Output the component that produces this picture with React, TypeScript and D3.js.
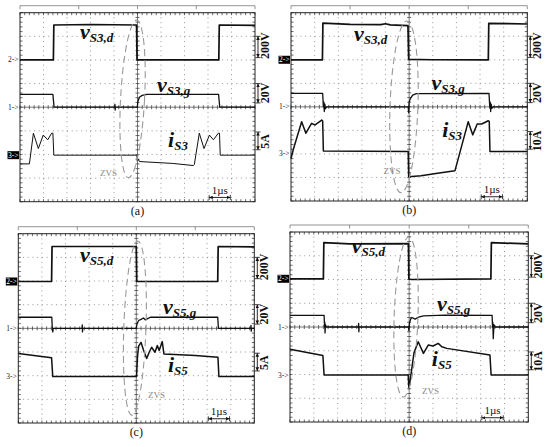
import React from "react";
import * as d3 from "d3";

type Pt = [number, number];

// Time axis: µs from the left screen edge (1 div = 1 µs, 10 div).
// Vertical axis: screen divisions, 0 = centre line, positive up (8 div).

// ---------- Panel (a) ----------
const A_VDS: Pt[] = [[0, 2.0], [1.42, 2.0], [1.44, 3.48], [3.0, 3.5], [4.96, 3.48], [4.98, 2.0], [8.46, 2.0], [8.48, 3.48], [10, 3.46]];
const A_VGS: Pt[] = [[0, 0.54], [1.4, 0.54], [1.45, 0], [4.03, 0], [4.04, 0.12], [4.05, -0.12], [4.06, 0], [4.99, 0], [5.02, 0.25], [5.08, 0.42], [5.2, 0.5], [5.4, 0.54], [8.45, 0.54], [8.5, 0], [10, 0]];
const A_IS: Pt[] = [[0, -2.4], [0.4, -2.4], [0.57, -1.1], [0.78, -1.75], [0.99, -1.18], [1.18, -1.38], [1.35, -1.1], [1.4, -1.1], [1.44, -2.03], [4.97, -2.03], [5.0, -2.28], [5.04, -2.2], [5.08, -2.3], [6.5, -2.38], [7.38, -2.47], [7.42, -2.42], [7.63, -1.1], [7.83, -1.75], [8.06, -1.18], [8.23, -1.38], [8.44, -1.1], [8.49, -1.1], [8.52, -2.03], [10, -2.03]];

// ---------- Panel (b) ----------
const B_VDS: Pt[] = [[0, 2.0], [1.33, 2.0], [1.35, 3.56], [2.5, 3.5], [3.8, 3.49], [4.0, 3.53], [4.2, 3.48], [4.95, 3.45], [4.98, 2.02], [6, 2.0], [8.35, 2.0], [8.37, 3.55], [10, 3.52]];
const B_VGS: Pt[] = [[0, 0.57], [1.34, 0.57], [1.37, 0], [1.39, 0.2], [1.41, -0.2], [1.43, 0.12], [1.46, -0.08], [1.5, 0], [4.96, 0], [4.98, -0.25], [5.0, 0.2], [5.05, 0.35], [5.15, 0.5], [5.3, 0.56], [8.38, 0.57], [8.41, 0], [8.43, 0.2], [8.45, -0.2], [8.47, 0.12], [8.5, -0.06], [8.55, 0], [10, 0]];
const B_IS: Pt[] = [[0, -2.2], [0.1, -1.8], [0.45, -0.63], [0.63, -1.12], [0.87, -0.7], [1.02, -0.77], [1.3, -0.56], [1.34, -0.6], [1.37, -1.88], [4.96, -1.9], [4.98, -2.97], [5.5, -2.93], [6.2, -2.82], [6.94, -2.71], [7.5, -0.63], [7.69, -1.19], [7.88, -0.73], [8.07, -0.73], [8.35, -0.59], [8.39, -0.62], [8.42, -1.9], [10, -1.9]];

// ---------- Panel (c) ----------
const C_VDS: Pt[] = [[0, 1.98], [1.41, 1.98], [1.43, 3.46], [5.0, 3.46], [5.02, 1.98], [8.45, 1.98], [8.47, 3.46], [10, 3.44]];
const C_VGS: Pt[] = [[0, 0.47], [1.42, 0.47], [1.44, 0], [1.46, -0.15], [1.48, 0], [2.7, 0], [2.71, 0.15], [2.72, -0.15], [2.73, 0], [5.0, 0], [5.03, 0.2], [5.1, 0.33], [5.2, 0.38], [5.3, 0.44], [5.38, 0.36], [5.5, 0.42], [5.6, 0.47], [8.45, 0.47], [8.48, 0], [9.85, 0], [9.86, 0.12], [9.87, -0.12], [9.88, 0], [10, 0]];
const C_IS: Pt[] = [[0, -1.06], [1.41, -1.24], [1.46, -2.04], [5.01, -2.04], [5.05, -1.2], [5.1, -0.75], [5.2, -0.59], [5.3, -0.9], [5.44, -1.27], [5.55, -1.0], [5.65, -0.8], [5.79, -1.01], [5.89, -0.73], [5.97, -0.94], [6.1, -0.56], [6.17, -1.08], [7.5, -1.15], [8.46, -1.22], [8.5, -2.04], [10, -2.04]];

// ---------- Panel (d) ----------
const D_VDS: Pt[] = [[0, 2.03], [1.4, 2.03], [1.42, 3.55], [2.5, 3.5], [4.97, 3.51], [4.99, 2.02], [5.1, 2.0], [8.43, 2.03], [8.45, 3.55], [10, 3.5]];
const D_VGS: Pt[] = [[0, 0.49], [1.43, 0.49], [1.45, 0], [1.46, 0.2], [1.47, -0.25], [1.49, 0.1], [1.52, 0], [2.87, 0], [2.88, 0.15], [2.89, -0.2], [2.9, 0], [4.97, 0], [4.99, -0.15], [5.02, 0.2], [5.07, 0.35], [5.12, 0.4], [5.25, 0.33], [5.4, 0.42], [5.6, 0.47], [6.5, 0.5], [8.48, 0.49], [8.5, 0], [8.51, 0.2], [8.53, -0.49], [8.56, 0.1], [8.6, 0], [10, 0]];
const D_IS: Pt[] = [[0, -0.94], [1.38, -1.2], [1.43, -2.02], [4.96, -2.02], [4.99, -2.6], [5.05, -2.2], [5.2, -1.1], [5.38, -0.62], [5.6, -1.11], [5.8, -0.76], [6.0, -0.8], [6.22, -0.69], [6.37, -0.83], [6.58, -0.9], [8.39, -1.18], [8.44, -2.02], [10, -2.02]];

// ---------- texts ----------
const PANEL_LETTERS = ["(a)", "(b)", "(c)", "(d)"];
const SWITCH_NAMES = ["S3", "S3", "S5", "S5"];
const SCALE_LABELS = [
  ["200V", "20V", "5A"],
  ["200V", "20V", "10A"],
  ["200V", "20V", "5A"],
  ["200V", "20V", "10A"],
];
const CHANNEL_TAGS = ["2->", "1->", "3->"];
const TIME_LABEL = "1µs";
const ZVS_LABEL = "ZVS";

const SERIF = "'Liberation Serif','Times New Roman',serif";

interface PanelCfg {
  x0: number; y0: number; x1: number; y1: number;
  vd: Pt[]; vg: Pt[]; cur: Pt[];
  curW: number;
  ch3: number; boxed: number;
  lab: [Pt, Pt, Pt];
  ell: { cx: number; cy: number; rx: number; ry: number; rot: number };
  zvs: Pt;
}

const PANELS: PanelCfg[] = [
  { x0: 20, y0: 12.7, x1: 255, y1: 201.7, vd: A_VDS, vg: A_VGS, cur: A_IS, curW: 1.0, ch3: -2.03, boxed: 2,
    lab: [[2.55, 2.87], [5.83, 0.64], [6.3, -1.68]], ell: { cx: 4.79, cy: 0.35, rx: 0.51, ry: 3.34, rot: 3 }, zvs: [3.4, -2.91] },
  { x0: 291, y0: 12.7, x1: 527.3, y1: 201, vd: B_VDS, vg: B_VGS, cur: B_IS, curW: 1.5, ch3: -2.0, boxed: 0,
    lab: [[2.67, 2.8], [5.95, 0.72], [6.4, -1.28]], ell: { cx: 4.78, cy: 0.0, rx: 0.59, ry: 3.65, rot: 2 }, zvs: [3.91, -2.85] },
  { x0: 18.3, y0: 233.7, x1: 254.3, y1: 423, vd: C_VDS, vg: C_VGS, cur: C_IS, curW: 1.5, ch3: -2.04, boxed: 0,
    lab: [[2.61, 2.8], [6.13, 0.61], [6.34, -1.85]], ell: { cx: 4.94, cy: 0.01, rx: 0.47, ry: 3.68, rot: 2 }, zvs: [5.5, -2.94] },
  { x0: 290, y0: 232, x1: 528.3, y1: 422, vd: D_VDS, vg: D_VGS, cur: D_IS, curW: 1.5, ch3: -2.03, boxed: 0,
    lab: [[2.59, 3.12], [6.17, 0.67], [5.95, -1.64]], ell: { cx: 4.87, cy: 0.42, rx: 0.5, ry: 3.37, rot: 2 }, zvs: [5.54, -2.82] },
];

const XDIV = d3.range(0, 11);
const YDIV = d3.range(-4, 5);
const MINOR_X = d3.range(0, 50.5, 1).map((k) => k * 0.2);
const MINOR_Y = d3.range(-20, 20.5, 1).map((k) => k * 0.2);

function Panel({ cfg, idx }: { cfg: PanelCfg; idx: number }) {
  const x = d3.scaleLinear().domain([0, 10]).range([cfg.x0, cfg.x1]);
  const y = d3.scaleLinear().domain([-4, 4]).range([cfg.y1, cfg.y0]);
  const line = d3.line<Pt>().x((d) => x(d[0])).y((d) => y(d[1]));
  const dx = x(0.2) - x(0);
  const dy = y(0) - y(0.2);
  const name = SWITCH_NAMES[idx];
  const scales = SCALE_LABELS[idx];
  const chLevels = [cfg.vd[0][1], 0, cfg.ch3];
  const arrowSpans: Pt[] = [[3.0, 2.1], [1.0, 0.18], [-1.05, -1.8]];
  const textCenters = [2.6, 0.6, -1.45];
  const rulerY = cfg.y0 - 7;
  const ax = cfg.x1 + 3;
  return (
    <g>
      {/* top ruler */}
      <line x1={cfg.x0} x2={cfg.x1} y1={rulerY} y2={rulerY} stroke="#777" strokeWidth={0.8} />
      {[0, 2.5, 5, 7.5, 10].map((t) => (
        <line key={"r" + t} x1={x(t)} x2={x(t)} y1={rulerY} y2={rulerY + 3.5} stroke="#777" strokeWidth={0.8} />
      ))}
      {/* dotted grid */}
      {XDIV.filter((v) => v > 0 && v < 10 && v !== 5).map((v) => (
        <line key={"gx" + v} x1={x(v)} x2={x(v)} y1={cfg.y0} y2={cfg.y1} stroke="#8c8c8c" strokeWidth={0.9}
          strokeDasharray={`1 ${dy - 1}`} />
      ))}
      {YDIV.filter((v) => v > -4 && v < 4 && v !== 0).map((v) => (
        <line key={"gy" + v} x1={cfg.x0} x2={cfg.x1} y1={y(v)} y2={y(v)} stroke="#8c8c8c" strokeWidth={0.9}
          strokeDasharray={`1 ${dx - 1}`} />
      ))}
      {/* centre axes */}
      <line x1={x(5)} x2={x(5)} y1={cfg.y0} y2={cfg.y1} stroke="#555" strokeWidth={0.8} />
      <line x1={cfg.x0} x2={cfg.x1} y1={y(0)} y2={y(0)} stroke="#555" strokeWidth={0.8} />
      {MINOR_X.map((v) => (
        <g key={"mx" + v}>
          <line x1={x(v)} x2={x(v)} y1={y(0) - 2} y2={y(0) + 2} stroke="#444" strokeWidth={0.8} />
          <line x1={x(v)} x2={x(v)} y1={cfg.y0} y2={cfg.y0 + 2.5} stroke="#444" strokeWidth={0.8} />
          <line x1={x(v)} x2={x(v)} y1={cfg.y1} y2={cfg.y1 - 2.5} stroke="#444" strokeWidth={0.8} />
        </g>
      ))}
      {MINOR_Y.map((v) => (
        <g key={"my" + v}>
          <line x1={x(5) - 2} x2={x(5) + 2} y1={y(v)} y2={y(v)} stroke="#444" strokeWidth={0.8} />
          <line x1={cfg.x0} x2={cfg.x0 + 2.5} y1={y(v)} y2={y(v)} stroke="#444" strokeWidth={0.8} />
          <line x1={cfg.x1} x2={cfg.x1 - 2.5} y1={y(v)} y2={y(v)} stroke="#444" strokeWidth={0.8} />
        </g>
      ))}
      <rect x={cfg.x0} y={cfg.y0} width={cfg.x1 - cfg.x0} height={cfg.y1 - cfg.y0} fill="none" stroke="#222" strokeWidth={1} />

      {/* traces */}
      <path d={line(cfg.vd) || ""} fill="none" stroke="#111" strokeWidth={1.7} strokeLinejoin="round" />
      <path d={line(cfg.vg) || ""} fill="none" stroke="#111" strokeWidth={1.3} strokeLinejoin="round" />
      <path d={line(cfg.cur) || ""} fill="none" stroke="#111" strokeWidth={cfg.curW} strokeLinejoin="round" />

      {/* ZVS ellipse */}
      <ellipse cx={0} cy={0} rx={x(cfg.ell.rx) - x(0)} ry={y(0) - y(cfg.ell.ry)}
        transform={`translate(${x(cfg.ell.cx)},${y(cfg.ell.cy)}) rotate(${cfg.ell.rot})`}
        fill="none" stroke="#999" strokeWidth={1.1} strokeDasharray="7 4" />
      <text x={x(cfg.zvs[0])} y={y(cfg.zvs[1])} fontFamily={SERIF} fontSize={9} fill="#888">{ZVS_LABEL}</text>

      {/* channel tags */}
      {CHANNEL_TAGS.map((t, i) => {
        const yy = y(chLevels[i]);
        const boxed = cfg.boxed === i;
        return (
          <g key={"ch" + i}>
            {boxed && <rect x={cfg.x0 - 12.5} y={yy - 4} width={11.5} height={8} fill="#000" />}
            <text x={cfg.x0 - 1.5} y={yy} textAnchor="end" dominantBaseline="central" fontFamily={SERIF}
              fontSize={7.5} fill={boxed ? "#fff" : "#222"}>{t}</text>
          </g>
        );
      })}

      {/* waveform labels */}
      {[["v", name + ",d"], ["v", name + ",g"], ["i", name]].map((lb, i) => (
        <text key={"lb" + i} x={x(cfg.lab[i][0])} y={y(cfg.lab[i][1])} fontFamily={SERIF} fontStyle="italic"
          fontWeight="bold" fill="#111">
          <tspan fontSize={22}>{lb[0]}</tspan>
          <tspan fontSize={13} dy={3}>{lb[1]}</tspan>
        </text>
      ))}

      {/* scale annotations */}
      {scales.map((s, i) => (
        <g key={"sc" + i}>
          <line x1={ax} x2={ax} y1={y(arrowSpans[i][0])} y2={y(arrowSpans[i][1])} stroke="#111" strokeWidth={0.9}
            markerStart="url(#ah)" markerEnd="url(#ah)" />
          <line x1={ax - 2.5} x2={ax + 2.5} y1={y(arrowSpans[i][0])} y2={y(arrowSpans[i][0])} stroke="#111" strokeWidth={0.8} />
          <line x1={ax - 2.5} x2={ax + 2.5} y1={y(arrowSpans[i][1])} y2={y(arrowSpans[i][1])} stroke="#111" strokeWidth={0.8} />
          <text transform={`translate(${cfg.x1 + 10},${y(textCenters[i])}) rotate(-90)`} textAnchor="middle"
            dominantBaseline="central" fontFamily={SERIF} fontWeight="bold" fontSize={12} fill="#111">{s}</text>
        </g>
      ))}

      {/* time scale */}
      <line x1={x(8.05)} x2={x(8.95)} y1={y(-3.82)} y2={y(-3.82)} stroke="#111" strokeWidth={0.9}
        markerStart="url(#ah)" markerEnd="url(#ah)" />
      <line x1={x(8.05)} x2={x(8.05)} y1={y(-3.82) - 2.5} y2={y(-3.82) + 2.5} stroke="#111" strokeWidth={0.8} />
      <line x1={x(8.95)} x2={x(8.95)} y1={y(-3.82) - 2.5} y2={y(-3.82) + 2.5} stroke="#111" strokeWidth={0.8} />
      <text x={x(8.5)} y={y(-3.66)} textAnchor="middle" fontFamily={SERIF} fontSize={11} fill="#111">{TIME_LABEL}</text>

      {/* panel letter */}
      <text x={(cfg.x0 + cfg.x1) / 2} y={cfg.y1 + 13} textAnchor="middle" fontFamily={SERIF} fontSize={12}
        fill="#111">{PANEL_LETTERS[idx]}</text>
    </g>
  );
}

export default function App() {
  return (
    <svg width={550} height={447} viewBox="0 0 550 447"
      style={{ position: "absolute", left: 0, top: 0, background: "#fff" }}>
      <defs>
        <marker id="ah" viewBox="0 0 6 6" refX="6" refY="3" markerWidth="4" markerHeight="4"
          orient="auto-start-reverse">
          <path d="M0,0L6,3L0,6z" fill="#111" />
        </marker>
      </defs>
      <rect x={0} y={0} width={550} height={447} fill="#fff" />
      {PANELS.map((p, i) => (
        <Panel key={i} cfg={p} idx={i} />
      ))}
    </svg>
  );
}
